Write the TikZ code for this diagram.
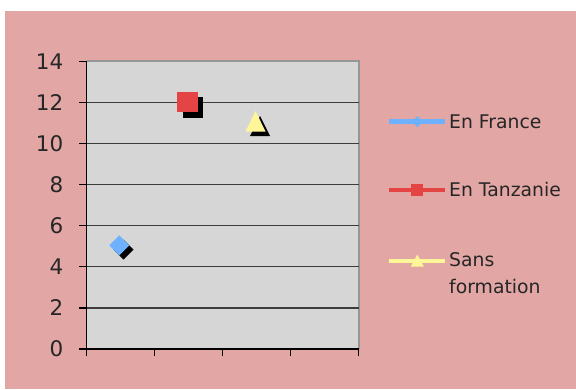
\documentclass[tikz,border=0pt]{standalone}
\usepackage{fontspec}
\setmainfont{DejaVu Sans}
\usetikzlibrary{shapes.geometric}
\definecolor{bgpink}{RGB}{226,166,165}
\definecolor{plotgray}{RGB}{214,214,214}
\definecolor{framegray}{RGB}{150,150,150}
\definecolor{gridc}{RGB}{60,60,60}
\definecolor{serblue}{RGB}{110,178,255}
\definecolor{serred}{RGB}{228,68,68}
\definecolor{seryellow}{RGB}{255,245,153}
\tikzset{
  axlabel/.style={anchor=base east, inner sep=0pt, font=\fontsize{21.5}{26}\selectfont, text=black!85},
  leglabel/.style={anchor=base west, inner sep=0pt, font=\fontsize{18.8}{22}\selectfont, text=black!85},
  gridline/.style={draw=gridc, line width=1.3pt},
  axisline/.style={draw=black, line width=1.5pt},
  tickline/.style={draw=black, line width=1.2pt},
  legline/.style={line width=4.5pt},
}
\begin{document}
\begin{tikzpicture}[x=1pt,y=-1pt]
\useasboundingbox (0,0) rectangle (576,389);
\fill[white] (0,0) rectangle (576,389);
\fill[bgpink] (5,11) rectangle (576,389);
% plot area
\fill[plotgray] (86.5,61.3) rectangle (358.5,349);
\draw[framegray, line width=2pt] (86.5,61.3) -- (358.5,61.3) -- (358.5,349);
\foreach \v in {2,4,...,12} {
  \draw[gridline] (86.5,{349-\v*20.55}) -- (358.5,{349-\v*20.55});
}
\foreach \v in {0,2,...,14} {
  \draw[tickline] (79,{349-\v*20.55}) -- (86.5,{349-\v*20.55});
  \node[axlabel] (lab\v) at (63.5,{349-\v*20.55+7.8}) {\v};
}
\foreach \x in {86.5,154.5,222.5,290.5,358.5} {
  \draw[tickline] (\x,349) -- (\x,355.5);
}
\draw[axisline] (86.5,61.3) -- (86.5,349) -- (358.5,349);
% data markers (shadow + marker)
\fill[black] (123.5,239.5) -- (133.5,249.5) -- (123.5,259.5) -- (113.5,249.5) -- cycle;
\fill[serblue] (119.3,235.3) -- (129.3,245.3) -- (119.3,255.3) -- (109.3,245.3) -- cycle;
\fill[black] (182.8,97.3) rectangle (203.2,117.5);
\fill[serred] (177.3,91.7) rectangle (197.7,112.3);
\fill[black] (260,116) -- (270,136) -- (250,136) -- cycle;
\fill[seryellow] (255.5,111) -- (265.5,131.5) -- (245.5,131.5) -- cycle;
% legend
\coordinate (l1a) at (389,121.7); \coordinate (l1b) at (445,121.7);
\draw[serblue, legline] (l1a) -- (l1b);
\fill[serblue] (417.3,116.2) -- (422.8,121.7) -- (417.3,127.2) -- (411.8,121.7) -- cycle;
\node[leglabel] (t1) at (449,128.3) {En France};
\coordinate (l2a) at (389,190); \coordinate (l2b) at (445,190);
\draw[serred, legline] (l2a) -- (l2b);
\fill[serred] (411.3,184) rectangle (423.3,196);
\node[leglabel] (t2) at (449,196.6) {En Tanzanie};
\coordinate (l3a) at (389,261); \coordinate (l3b) at (445,261);
\draw[seryellow, legline] (l3a) -- (l3b);
\fill[seryellow] (417.3,254.5) -- (423.8,266.5) -- (410.8,266.5) -- cycle;
\node[leglabel] (t3) at (449,266.8) {Sans};
\node[leglabel] (t4) at (449,293.3) {formation};
\end{tikzpicture}
\end{document}
